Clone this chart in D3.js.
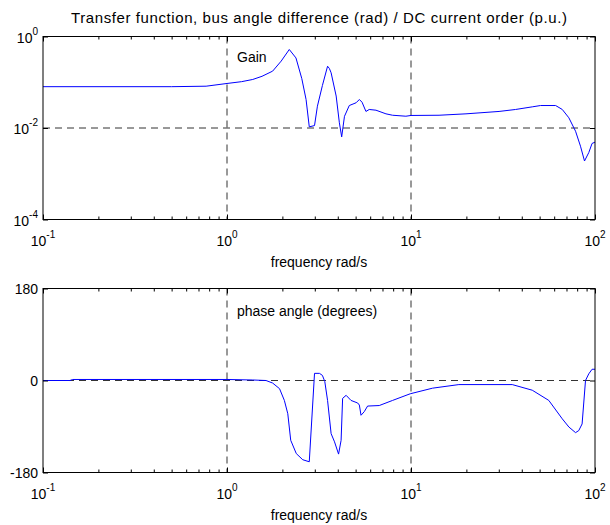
<!DOCTYPE html>
<html><head><meta charset="utf-8">
<script src="https://cdn.jsdelivr.net/npm/d3@7"></script>
<style>
body{margin:0;background:#fff;}
svg{display:block;font-family:"Liberation Sans",Arial,sans-serif;}
</style></head>
<body>
<svg id="c" width="610" height="525"></svg>
<script>
// ---- data ----
const gainFreq = [0.1,0.5,0.77,1.0,1.2,1.38,1.55,1.77,1.97,2.18,2.37,2.55,2.69,2.80,2.99,3.1,3.3,3.52,3.6,3.68,3.92,4.08,4.2,4.35,4.62,5.03,5.24,5.42,5.69,5.93,6.45,7.31,7.94,9.38,10,14.2,19.9,30.1,37.0,45.6,50.6,61.1,66.4,72.1,78.4,83.4,87.7,92.5,96.4,100];
const gainVal  = [0.080,0.080,0.082,0.094,0.103,0.115,0.135,0.175,0.29,0.52,0.34,0.12,0.042,0.0106,0.0113,0.030,0.085,0.224,0.20,0.161,0.050,0.013,0.0064,0.018,0.031,0.0356,0.042,0.0366,0.023,0.0254,0.0245,0.0204,0.019,0.0181,0.0188,0.019,0.0204,0.023,0.0254,0.029,0.031,0.031,0.0254,0.0167,0.0085,0.0040,0.0019,0.0029,0.0046,0.0049];
const phaseFreq = [0.1,0.14,0.145,1.0,1.38,1.63,1.77,1.93,2.05,2.14,2.22,2.38,2.58,2.80,2.99,3.18,3.30,3.40,3.52,3.68,3.84,4.04,4.17,4.25,4.44,4.72,5.13,5.24,5.35,5.57,5.81,6.72,7.94,9.9,13.1,18.2,35.5,45.6,56.1,66.4,72.1,78.4,81.6,85.1,88.8,92.5,96.4,100];
const phaseVal  = [0,0,2,2,1,0,-5,-16,-39,-65,-117,-143,-155,-159,14,14,10,-2,-39,-104,-120,-144,-117,-35,-29,-39,-44,-48,-68,-61,-50,-49,-39,-26,-15,-8,-8,-19,-39,-75,-91,-102,-98,-85,0,13,22,22];
const xTickExps = [-1,0,1,2];
const gainTickExps = [0,-2,-4];
const phaseTicks = [-180,0,180];
const gridFreqs = [1,10];
const title = "Transfer function, bus angle difference (rad) / DC current order (p.u.)";
const xLabel = "frequency rad/s";

const svg = d3.select("#c");
const L = 43, R = 595;
const x = d3.scaleLog().domain([0.1,100]).range([L,R]);

function panel(top, bottom, y, yTicks, yLabelFn, gridY, xs, ys, label, labelY){
  const g = svg.append("g");
  gridFreqs.forEach(f=>{
    g.append("line").attr("x1",x(f)).attr("x2",x(f)).attr("y1",top).attr("y2",bottom)
     .attr("stroke","#333").attr("stroke-width",1).attr("stroke-dasharray","7,5");
  });
  g.append("line").attr("x1",L).attr("x2",R).attr("y1",y(gridY)).attr("y2",y(gridY))
     .attr("stroke","#333").attr("stroke-width",1).attr("stroke-dasharray","7,5");
  const line = d3.line().x((d,i)=>x(xs[i])).y((d,i)=>y(ys[i]));
  g.append("path").attr("d",line(xs)).attr("fill","none").attr("stroke","#0000ff").attr("stroke-width",1);
  const minor = [];
  for (let e=-1;e<2;e++) for (let k=2;k<10;k++) minor.push(k*Math.pow(10,e));
  const bAx = d3.axisBottom(x).tickValues(minor).tickSize(-3).tickFormat("");
  const tAx = d3.axisTop(x).tickValues(minor).tickSize(-3).tickFormat("");
  const bMaj = d3.axisBottom(x).tickValues(xTickExps.map(e=>Math.pow(10,e))).tickSize(-5).tickFormat("");
  const tMaj = d3.axisTop(x).tickValues(xTickExps.map(e=>Math.pow(10,e))).tickSize(-5).tickFormat("");
  [bAx,bMaj].forEach(a=>{ const s=g.append("g").attr("transform",`translate(0,${bottom})`).call(a); s.select(".domain").remove(); s.selectAll("line").attr("stroke","#000");});
  [tAx,tMaj].forEach(a=>{ const s=g.append("g").attr("transform",`translate(0,${top})`).call(a); s.select(".domain").remove(); s.selectAll("line").attr("stroke","#000");});
  const lAx = d3.axisLeft(y).tickValues(yTicks).tickSize(-5).tickFormat("");
  const rAx = d3.axisRight(y).tickValues(yTicks).tickSize(-5).tickFormat("");
  [[lAx,L],[rAx,R]].forEach(([a,p])=>{ const s=g.append("g").attr("transform",`translate(${p},0)`).call(a); s.select(".domain").remove(); s.selectAll("line").attr("stroke","#000");});
  g.append("rect").attr("x",L).attr("y",top).attr("width",R-L).attr("height",bottom-top)
   .attr("fill","none").attr("stroke","#000").attr("stroke-width",1);
  yTicks.forEach(v=>yLabelFn(g, v, y(v)));
  xTickExps.forEach(e=>{
    const t = g.append("text").attr("x",x(Math.pow(10,e))).attr("y",bottom+26).attr("text-anchor","middle")
      .attr("font-size",14).attr("fill","#000");
    t.append("tspan").text("10");
    t.append("tspan").attr("dy",-8).attr("font-size",10).text(String(e));
  });
  g.append("text").attr("x",(L+R)/2).attr("y",bottom+47).attr("text-anchor","middle")
   .attr("font-size",14).text(xLabel);
  g.append("text").attr("x",x(1)+10).attr("y",labelY).attr("font-size",14).text(label);
}

const yGain = d3.scaleLog().domain([1e-4,1]).range([219.5,36.5]);
panel(36.5, 219.5, yGain, gainTickExps.map(e=>Math.pow(10,e)), (g,v,py)=>{
  const e = Math.round(Math.log10(v));
  const t = g.append("text").attr("x",38).attr("y",py+6).attr("text-anchor","end").attr("font-size",14);
  t.append("tspan").text("10");
  t.append("tspan").attr("dy",-8).attr("font-size",10).text(String(e));
}, 1e-2, gainFreq, gainVal, "Gain", 62);

const yPh = d3.scaleLinear().domain([-180,180]).range([472.5,288.5]);
panel(288.5, 472.5, yPh, phaseTicks, (g,v,py)=>{
  g.append("text").attr("x",38).attr("y",py+5).attr("text-anchor","end").attr("font-size",14).text(String(v));
}, 0, phaseFreq, phaseVal, "phase angle (degrees)", 316);

svg.append("text").attr("x",319).attr("y",23).attr("text-anchor","middle").attr("font-size",15)
  .attr("textLength",496).attr("lengthAdjust","spacing").text(title);
</script>
</body></html>
